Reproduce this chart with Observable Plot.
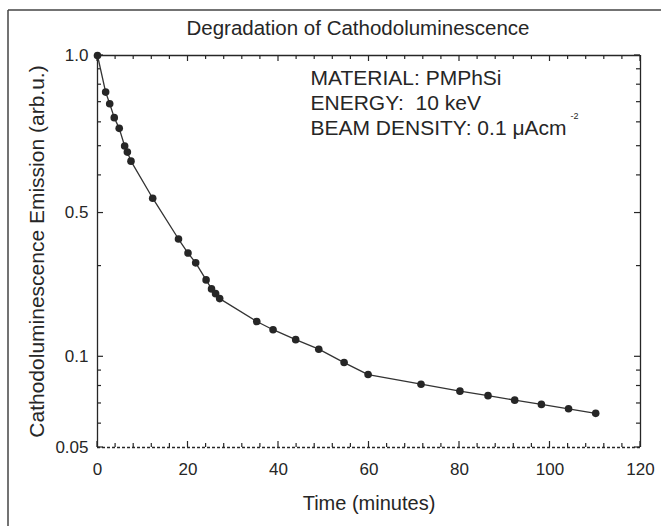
<!DOCTYPE html>
<html><head><meta charset="utf-8">
<script src="https://cdn.jsdelivr.net/npm/d3@7"></script>
<script src="https://cdn.jsdelivr.net/npm/@observablehq/plot@0.6"></script>
<style>html,body{margin:0;padding:0;background:#fff;overflow:hidden;} svg{display:block}</style>
</head><body><div id="chart"></div>
<script>
// Data
const timeMin = [0, 1.8, 2.7, 3.7, 4.8, 6.0, 6.6, 7.4, 12.2, 17.9, 20.0, 21.7, 24.0, 25.2, 26.1, 27.0,
  35.2, 38.8, 43.8, 48.9, 54.5, 59.8, 71.5, 80.1, 86.3, 92.2, 98.1, 104.1, 110.1];
const emission = [1.0, 0.756, 0.692, 0.622, 0.573, 0.501, 0.478, 0.446, 0.336, 0.246, 0.221, 0.205, 0.180, 0.168, 0.162, 0.156,
  0.131, 0.123, 0.114, 0.106, 0.0957, 0.0873, 0.0811, 0.0769, 0.0743, 0.0718, 0.0695, 0.0672, 0.0649];

const xMajorTicks = [0, 20, 40, 60, 80, 100, 120];
const xMinorTicks = [4, 8, 12, 16, 24, 28, 32, 36, 44, 48, 52, 56, 64, 68, 72, 76, 84, 88, 92, 96, 104, 108, 112, 116];
const yMajorTicks = [1, 0.3, 0.1, 0.05];
const yTickLabels = ["1.0", "0.5", "0.1", "0.05"];
const yMinorTicks = [0.9, 0.8, 0.7, 0.6, 0.5, 0.4, 0.2, 0.09, 0.08, 0.07, 0.06];

const title = "Degradation of Cathodoluminescence";
const xLabel = "Time (minutes)";
const yLabel = "Cathodoluminescence Emission (arb.u.)";
const notes = ["MATERIAL: PMPhSi", "ENERGY:  10 keV", "BEAM DENSITY: 0.1 \u03bcAcm"];
const noteSup = "-2";

const data = timeMin.map((t, i) => ({t, v: emission[i]}));
const ink = "#262626";
const font = "'Liberation Sans', Arial, sans-serif";

function tickMarks(index, scales) {
  const {x, y} = scales;
  const g = d3.create("svg:g").attr("stroke", ink).attr("stroke-width", 1.2).attr("fill", "none");
  const xL = x(0), xR = x(120), yT = y(1), yB = y(0.05);
  const add = (a, b, c, d) => g.append("line").attr("x1", a).attr("y1", b).attr("x2", c).attr("y2", d);
  for (const v of xMajorTicks) { const p = x(v); add(p, yB, p, yB - 6); add(p, yT, p, yT + 6); }
  for (const v of xMinorTicks) { const p = x(v); add(p, yB, p, yB - 4); add(p, yT, p, yT + 4); }
  for (const v of yMajorTicks) { const p = y(v); add(xL, p, xL + 6, p); add(xR, p, xR - 6, p); }
  for (const v of yMinorTicks) { const p = y(v); add(xL, p, xL + 4, p); add(xR, p, xR - 4, p); }
  // outer figure border (left and top edges visible)
  const b = d3.create("svg:g").attr("stroke", "#444").attr("stroke-width", 1.5);
  b.append("line").attr("x1", 8).attr("y1", 10).attr("x2", 8).attr("y2", 526);
  b.append("line").attr("x1", 8).attr("y1", 10).attr("x2", 661).attr("y2", 10);
  const wrap = d3.create("svg:g");
  wrap.node().appendChild(b.node());
  wrap.node().appendChild(g.node());
  return wrap.node();
}

const chart = Plot.plot({
  width: 661,
  height: 526,
  marginLeft: 97,
  marginRight: 21,
  marginTop: 55,
  marginBottom: 79,
  style: {fontFamily: font, background: "#fff", color: ink},
  x: {domain: [0, 120], axis: null},
  y: {type: "log", domain: [0.05, 1], axis: null},
  marks: [
    tickMarks,
    Plot.ruleX([0, 120], {stroke: ink, strokeWidth: 1.3}),
    Plot.ruleY([1], {stroke: ink, strokeWidth: 1.3}),
    Plot.ruleY([0.05], {stroke: ink, strokeWidth: 1.3, strokeDasharray: "3,2"}),
    Plot.line(data, {x: "t", y: "v", stroke: "#333", strokeWidth: 1.3}),
    Plot.dot(data, {x: "t", y: "v", r: 3.8, fill: ink, stroke: "none"}),
    Plot.text(yMajorTicks, {x: 0, y: d => d, text: (d, i) => yTickLabels[i], textAnchor: "end", lineAnchor: "middle", dx: -9, fontSize: 17, fill: ink}),
    Plot.text(xMajorTicks, {x: d => d, y: 0.05, text: d => String(d), lineAnchor: "middle", dy: 22, fontSize: 17, fill: ink}),
    Plot.text([title], {text: d => d, frameAnchor: "top", textAnchor: "middle", lineAnchor: "middle", dx: -11, dy: -27, fontSize: 20.5, fill: ink}),
    Plot.text([xLabel], {text: d => d, frameAnchor: "bottom", textAnchor: "middle", lineAnchor: "middle", dy: 56, fontSize: 20, fill: ink}),
    Plot.text([yLabel], {text: d => d, frameAnchor: "left", textAnchor: "middle", lineAnchor: "middle", dx: -60, rotate: -90, fontSize: 21, fill: ink}),
    ...notes.map((n, i) => Plot.text([n], {text: d => d, frameAnchor: "top-left", textAnchor: "start", lineAnchor: "middle", dx: 213, dy: 23 + 25 * i, fontSize: 21, fill: ink})),
    Plot.text([noteSup], {text: d => d, frameAnchor: "top-left", textAnchor: "start", lineAnchor: "middle", dx: 473, dy: 61, fontSize: 9, fill: ink})
  ]
});
document.getElementById("chart").appendChild(chart);
</script>
</body></html>
